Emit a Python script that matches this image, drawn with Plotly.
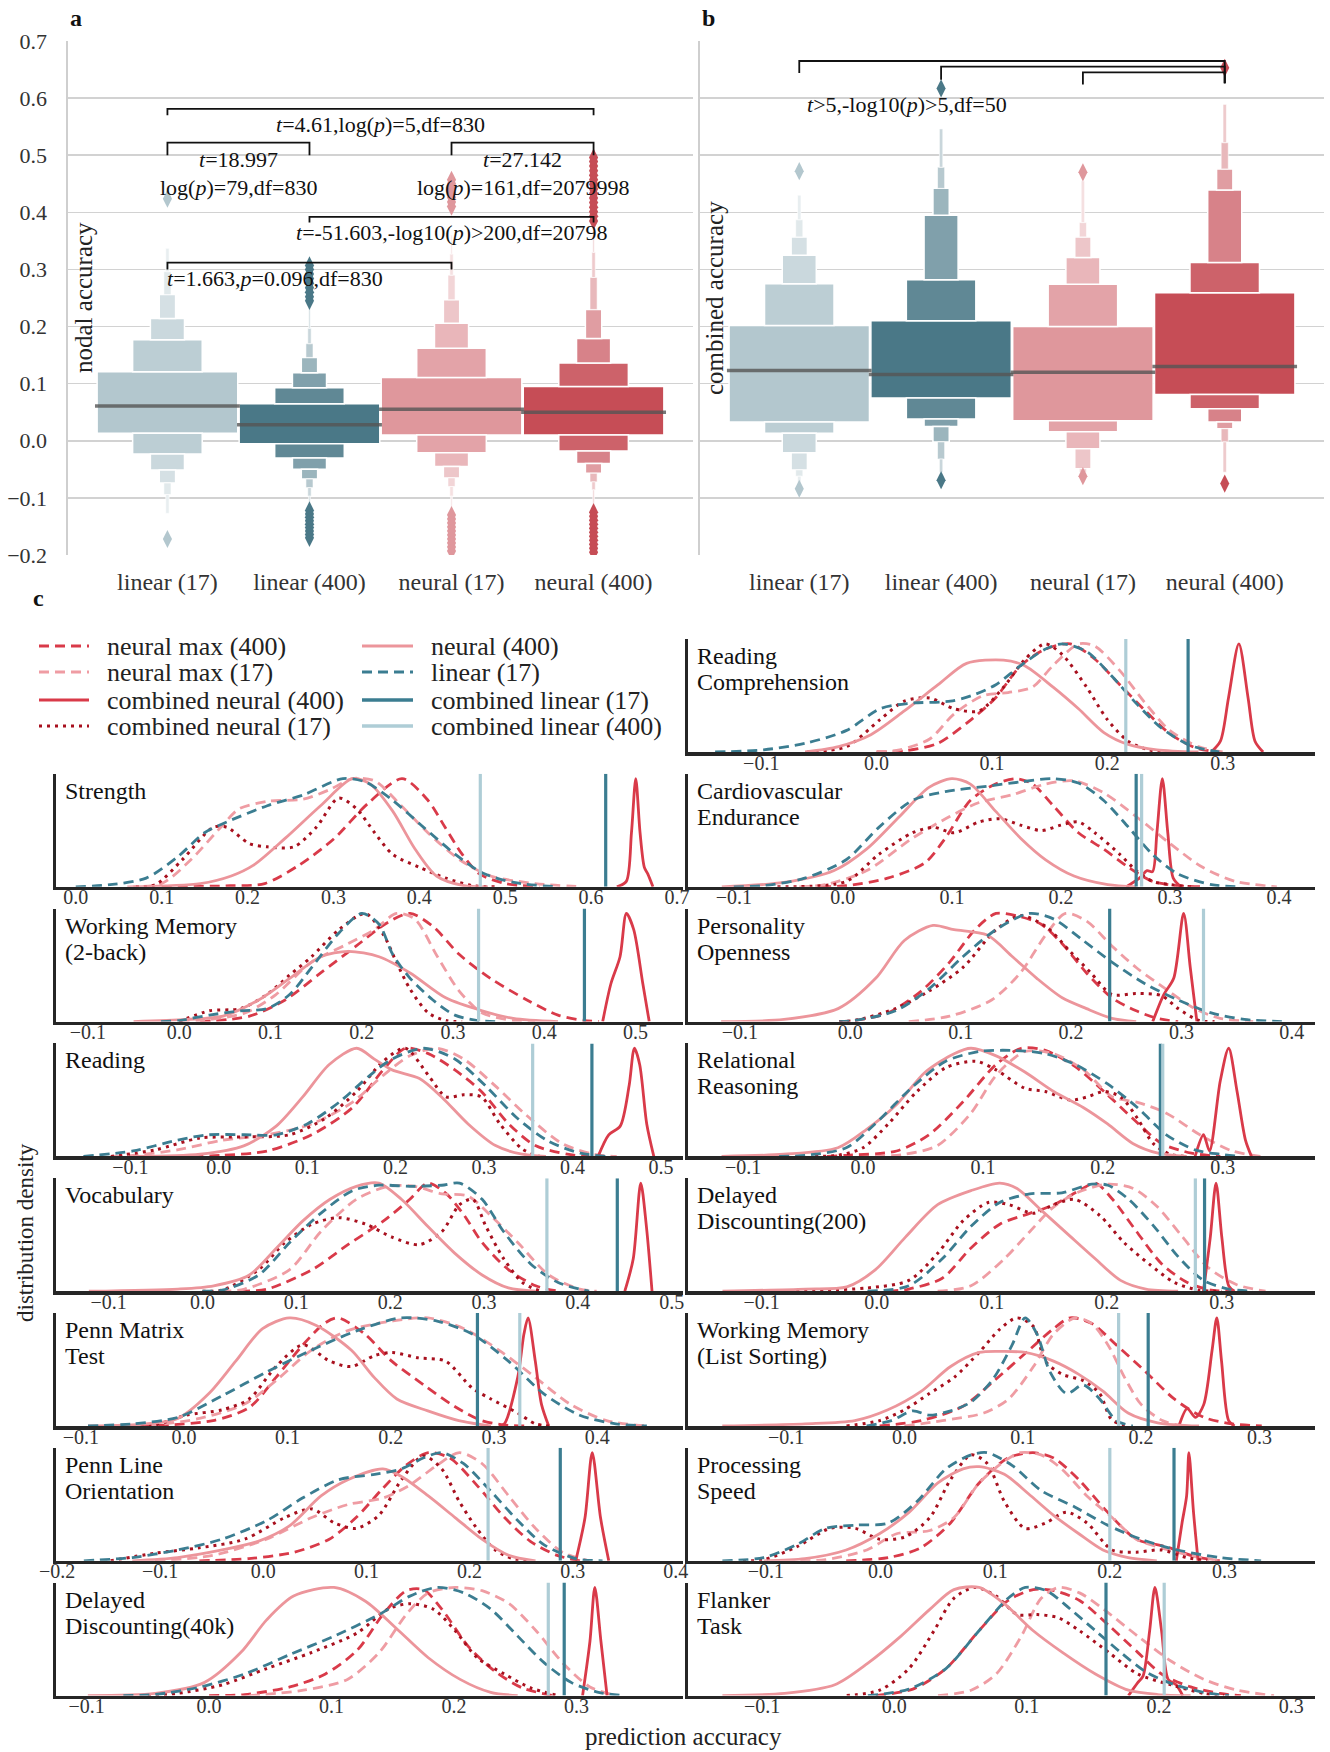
import plotly.graph_objects as go

FONT = "Liberation Serif"
W, H = 1330, 1752

# ---------------- panel a / b data (letter-value plots) ----------------
CATEGORIES = ["linear (17)", "linear (400)", "neural (17)", "neural (400)"]
CAT_COLORS = ["#b3c7ce", "#4a7887", "#df979c", "#c64d56"]

# lower / upper letter-value boundaries (outermost level last)
NODAL_LO = [[0.013, -0.023, -0.051, -0.074, -0.094, -0.127],
            [-0.005, -0.030, -0.050, -0.067, -0.082, -0.097, -0.115],
            [0.010, -0.021, -0.045, -0.065, -0.080, -0.097, -0.120],
            [0.010, -0.018, -0.040, -0.057, -0.072, -0.086, -0.110]]
NODAL_HI = [[0.121, 0.177, 0.214, 0.256, 0.296, 0.337],
            [0.065, 0.093, 0.119, 0.146, 0.170, 0.197, 0.232],
            [0.111, 0.162, 0.206, 0.247, 0.290, 0.327, 0.360],
            [0.095, 0.136, 0.179, 0.230, 0.286, 0.330, 0.370]]
NODAL_MED = [0.061, 0.028, 0.055, 0.050]
NODAL_OUT = [[0.424, -0.172],
             [0.245, 0.252, 0.26, 0.268, 0.276, 0.284, 0.292, 0.3, 0.307,
              -0.122, -0.128, -0.134, -0.14, -0.146, -0.152, -0.158, -0.164, -0.17],
             [0.41, 0.418, 0.426, 0.434, 0.442, 0.45, 0.457,
              -0.13, -0.137, -0.144, -0.151, -0.158, -0.165, -0.172, -0.179, -0.186, -0.193],
             [0.385, 0.393, 0.401, 0.409, 0.417, 0.425, 0.433, 0.441, 0.449, 0.457, 0.465,
              0.473, 0.481, 0.489, 0.496, -0.125, -0.132, -0.139, -0.146, -0.153, -0.16,
              -0.167, -0.174, -0.181, -0.188, -0.195]]

COMB_LO = [[0.033, 0.013, -0.021, -0.051, -0.062, -0.075],
           [0.075, 0.038, 0.025, -0.002, -0.032, -0.055],
           [0.035, 0.016, -0.014, -0.049, -0.055, -0.060],
           [0.081, 0.056, 0.033, 0.021, -0.002, -0.055]]
COMB_HI = [[0.202, 0.275, 0.325, 0.357, 0.387, 0.430],
           [0.210, 0.282, 0.395, 0.442, 0.479, 0.546],
           [0.200, 0.274, 0.321, 0.357, 0.382, 0.455],
           [0.259, 0.312, 0.439, 0.476, 0.522, 0.589]]
COMB_MED = [0.123, 0.116, 0.120, 0.130]
COMB_OUT = [[0.472, -0.084], [0.617, -0.069], [0.47, -0.062], [0.653, -0.075]]

LEVEL_WIDTHS = [0.99, 0.49, 0.24, 0.115, 0.05, 0.024, 0.012]
LEVEL_FADE = [0.0, 0.12, 0.3, 0.45, 0.6, 0.7, 0.78]

BRACKETS_A = [(0, 3, 0.581, 0.570, 0.570), (0, 1, 0.522, 0.500, 0.500),
              (2, 3, 0.522, 0.500, 0.500), (1, 3, 0.392, 0.382, 0.382),
              (0, 2, 0.312, 0.300, 0.300)]
TEXTS_A = [("<i>t</i>=4.61,log(<i>p</i>)=5,df=830", 1.5, 0.553),
           ("<i>t</i>=18.997", 0.5, 0.492),
           ("log(<i>p</i>)=79,df=830", 0.5, 0.443),
           ("<i>t</i>=27.142", 2.5, 0.492),
           ("log(<i>p</i>)=161,df=2079998", 2.5, 0.443),
           ("<i>t</i>=-51.603,-log10(<i>p</i>)&gt;200,df=20798", 2.0, 0.365),
           ("<i>t</i>=1.663,<i>p</i>=0.096,df=830", 0.76, 0.285)]
BRACKETS_B = [(0, 3, 0.665, 0.644, 0.626), (1, 3, 0.655, 0.632, 0.626),
              (2, 3, 0.645, 0.624, 0.626)]
TEXTS_B = [("<i>t</i>&gt;5,-log10(<i>p</i>)&gt;5,df=50", 0.76, 0.588)]

# ---------------- panel c data (density curves, (x, relative density)) ----------------
NEURAL_MAX_400 = {
    "Strength": [(0.10, 0), (0.18, 0.01), (0.22, 0.03), (0.26, 0.2), (0.30, 0.44), (0.34, 0.77), (0.38, 1.0), (0.41, 0.8), (0.43, 0.55), (0.45, 0.3), (0.47, 0.12), (0.50, 0.03), (0.54, 0)],
    "Reading Comprehension": [(0.0, 0), (0.024, 0.01), (0.053, 0.08), (0.082, 0.3), (0.103, 0.5), (0.125, 0.8), (0.146, 0.95), (0.168, 1.0), (0.189, 0.86), (0.211, 0.62), (0.233, 0.38), (0.254, 0.17), (0.276, 0.04), (0.297, 0)],
    "Cardiovascular Endurance": [(-0.02, 0), (0.003, 0.01), (0.041, 0.08), (0.075, 0.22), (0.094, 0.45), (0.117, 0.8), (0.14, 0.95), (0.159, 1.0), (0.174, 0.95), (0.193, 0.75), (0.216, 0.5), (0.239, 0.35), (0.262, 0.18), (0.284, 0.05), (0.307, 0.01), (0.33, 0)],
    "Working Memory (2-back)": [(0.023, 0), (0.077, 0.05), (0.116, 0.2), (0.155, 0.45), (0.194, 0.7), (0.229, 0.92), (0.253, 1.0), (0.278, 0.88), (0.307, 0.62), (0.341, 0.4), (0.381, 0.2), (0.415, 0.06), (0.444, 0.01), (0.46, 0)],
    "Personality Openness": [(-0.01, 0), (0.004, 0.01), (0.034, 0.08), (0.064, 0.28), (0.09, 0.55), (0.113, 0.85), (0.132, 1.0), (0.154, 0.97), (0.173, 0.9), (0.192, 0.72), (0.214, 0.45), (0.237, 0.22), (0.259, 0.1), (0.278, 0.03), (0.297, 0)],
    "Reading": [(-0.047, 0), (0.004, 0.01), (0.055, 0.05), (0.105, 0.2), (0.151, 0.45), (0.186, 0.8), (0.211, 1.0), (0.237, 0.95), (0.267, 0.8), (0.297, 0.6), (0.328, 0.3), (0.358, 0.1), (0.394, 0.02), (0.419, 0)],
    "Relational Reasoning": [(-0.03, 0), (-0.014, 0.01), (0.028, 0.05), (0.055, 0.2), (0.083, 0.5), (0.111, 0.85), (0.132, 1.0), (0.152, 0.98), (0.177, 0.83), (0.201, 0.6), (0.225, 0.35), (0.249, 0.12), (0.274, 0.03), (0.298, 0)],
    "Vocabulary": [(0.04, 0), (0.069, 0.02), (0.117, 0.2), (0.155, 0.43), (0.193, 0.65), (0.221, 0.85), (0.24, 1.0), (0.26, 0.9), (0.279, 0.7), (0.298, 0.45), (0.326, 0.2), (0.355, 0.05), (0.379, 0)],
    "Delayed Discounting(200)": [(0.01, 0), (0.028, 0.02), (0.057, 0.12), (0.082, 0.4), (0.107, 0.62), (0.133, 0.72), (0.154, 0.8), (0.176, 0.93), (0.19, 1.0), (0.205, 0.85), (0.226, 0.55), (0.248, 0.25), (0.27, 0.08), (0.291, 0.01), (0.31, 0)],
    "Penn Matrix Test": [(-0.04, 0), (-0.015, 0.01), (0.028, 0.05), (0.063, 0.17), (0.089, 0.45), (0.115, 0.75), (0.136, 0.95), (0.149, 1.0), (0.175, 0.85), (0.201, 0.6), (0.232, 0.38), (0.262, 0.18), (0.288, 0.05), (0.31, 0.01), (0.33, 0)],
    "Working Memory (List Sorting)": [(-0.021, 0), (0.014, 0.05), (0.049, 0.18), (0.077, 0.43), (0.105, 0.7), (0.126, 0.9), (0.14, 1.0), (0.158, 0.95), (0.179, 0.75), (0.204, 0.5), (0.228, 0.25), (0.253, 0.08), (0.277, 0.02), (0.302, 0)],
    "Penn Line Orientation": [(-0.062, 0), (-0.014, 0.02), (0.03, 0.08), (0.064, 0.2), (0.09, 0.4), (0.116, 0.67), (0.138, 0.88), (0.16, 1.0), (0.181, 0.95), (0.207, 0.7), (0.234, 0.4), (0.259, 0.18), (0.285, 0.05), (0.307, 0)],
    "Processing Speed": [(-0.03, 0), (0.007, 0.03), (0.035, 0.12), (0.061, 0.35), (0.086, 0.72), (0.111, 0.95), (0.133, 1.0), (0.151, 0.95), (0.173, 0.75), (0.198, 0.45), (0.223, 0.2), (0.249, 0.13), (0.274, 0.04), (0.296, 0)],
    "Delayed Discounting(40k)": [(0.0, 0), (0.029, 0.01), (0.066, 0.08), (0.095, 0.2), (0.121, 0.42), (0.142, 0.75), (0.161, 0.97), (0.175, 0.98), (0.19, 0.8), (0.212, 0.45), (0.234, 0.22), (0.256, 0.07), (0.281, 0)],
    "Flanker Task": [(-0.014, 0), (0.014, 0.06), (0.039, 0.25), (0.064, 0.6), (0.086, 0.88), (0.105, 0.98), (0.121, 0.97), (0.14, 0.88), (0.162, 0.65), (0.184, 0.4), (0.202, 0.2), (0.224, 0.08), (0.246, 0.02), (0.262, 0)],
}
NEURAL_MAX_17 = {
    "Strength": [(0.06, 0), (0.10, 0.03), (0.134, 0.25), (0.171, 0.57), (0.19, 0.72), (0.223, 0.79), (0.265, 0.81), (0.296, 0.9), (0.322, 1.0), (0.348, 0.98), (0.379, 0.75), (0.41, 0.5), (0.447, 0.25), (0.483, 0.1), (0.535, 0.03), (0.59, 0)],
    "Reading Comprehension": [(0.0, 0), (0.02, 0.02), (0.046, 0.12), (0.067, 0.35), (0.092, 0.52), (0.114, 0.55), (0.135, 0.6), (0.153, 0.8), (0.175, 1.0), (0.189, 0.98), (0.211, 0.75), (0.233, 0.45), (0.254, 0.2), (0.279, 0.05), (0.3, 0)],
    "Cardiovascular Endurance": [(-0.04, 0), (-0.016, 0.02), (0.022, 0.15), (0.064, 0.45), (0.098, 0.65), (0.125, 0.78), (0.155, 0.85), (0.186, 0.95), (0.212, 0.98), (0.239, 0.87), (0.269, 0.65), (0.3, 0.4), (0.33, 0.18), (0.36, 0.05), (0.398, 0)],
    "Working Memory (2-back)": [(0.0, 0), (0.023, 0.01), (0.072, 0.08), (0.106, 0.25), (0.145, 0.55), (0.185, 0.72), (0.214, 0.85), (0.238, 1.0), (0.258, 0.95), (0.283, 0.6), (0.307, 0.28), (0.332, 0.08), (0.366, 0.01), (0.39, 0)],
    "Personality Openness": [(0.053, 0), (0.09, 0.05), (0.128, 0.2), (0.154, 0.45), (0.177, 0.8), (0.195, 1.0), (0.214, 0.93), (0.237, 0.7), (0.259, 0.5), (0.286, 0.3), (0.312, 0.12), (0.335, 0.03), (0.365, 0)],
    "Reading": [(-0.12, 0), (-0.097, 0.01), (-0.047, 0.06), (0.004, 0.15), (0.055, 0.2), (0.105, 0.3), (0.151, 0.5), (0.186, 0.75), (0.216, 0.93), (0.247, 1.0), (0.277, 0.9), (0.313, 0.65), (0.348, 0.38), (0.388, 0.12), (0.424, 0.02), (0.45, 0)],
    "Relational Reasoning": [(0.01, 0), (0.035, 0.02), (0.062, 0.1), (0.09, 0.4), (0.111, 0.75), (0.135, 0.97), (0.159, 0.95), (0.184, 0.8), (0.208, 0.55), (0.229, 0.5), (0.253, 0.4), (0.281, 0.2), (0.308, 0.05), (0.332, 0)],
    "Vocabulary": [(0.02, 0), (0.045, 0.02), (0.093, 0.2), (0.126, 0.55), (0.164, 0.85), (0.198, 0.97), (0.226, 0.97), (0.255, 0.9), (0.283, 0.88), (0.307, 0.7), (0.336, 0.45), (0.369, 0.15), (0.402, 0.02), (0.42, 0)],
    "Delayed Discounting(200)": [(0.053, 0), (0.082, 0.05), (0.111, 0.3), (0.133, 0.55), (0.154, 0.78), (0.176, 0.92), (0.201, 0.99), (0.223, 0.95), (0.244, 0.78), (0.266, 0.5), (0.288, 0.22), (0.313, 0.06), (0.338, 0)],
    "Penn Matrix Test": [(-0.05, 0), (-0.028, 0.01), (0.015, 0.07), (0.058, 0.2), (0.089, 0.42), (0.123, 0.7), (0.158, 0.88), (0.201, 0.97), (0.236, 1.0), (0.271, 0.9), (0.305, 0.7), (0.34, 0.45), (0.374, 0.2), (0.409, 0.05), (0.448, 0)],
    "Working Memory (List Sorting)": [(0.0, 0), (0.032, 0.05), (0.067, 0.12), (0.088, 0.25), (0.109, 0.55), (0.126, 0.85), (0.144, 1.0), (0.158, 0.95), (0.172, 0.75), (0.186, 0.45), (0.2, 0.2), (0.218, 0.05), (0.235, 0)],
    "Penn Line Orientation": [(-0.105, 0), (-0.049, 0.05), (0.003, 0.2), (0.047, 0.4), (0.082, 0.52), (0.116, 0.58), (0.142, 0.7), (0.168, 0.88), (0.19, 1.0), (0.212, 0.9), (0.238, 0.6), (0.264, 0.3), (0.29, 0.08), (0.316, 0)],
    "Processing Speed": [(-0.07, 0), (-0.048, 0.01), (-0.012, 0.1), (0.014, 0.25), (0.043, 0.28), (0.064, 0.4), (0.086, 0.72), (0.108, 0.92), (0.122, 1.0), (0.14, 0.98), (0.158, 0.85), (0.18, 0.6), (0.202, 0.4), (0.223, 0.2), (0.245, 0.12), (0.27, 0.05), (0.296, 0)],
    "Delayed Discounting(40k)": [(0.033, 0), (0.077, 0.05), (0.113, 0.15), (0.139, 0.4), (0.161, 0.75), (0.179, 0.95), (0.201, 1.0), (0.223, 0.97), (0.245, 0.85), (0.267, 0.6), (0.289, 0.3), (0.311, 0.08), (0.332, 0)],
    "Flanker Task": [(0.033, 0), (0.058, 0.05), (0.077, 0.2), (0.096, 0.55), (0.111, 0.9), (0.124, 1.0), (0.14, 0.95), (0.158, 0.8), (0.184, 0.55), (0.209, 0.32), (0.234, 0.15), (0.259, 0.05), (0.287, 0)],
}
COMBINED_NEURAL_400 = {
    "Strength": [(0.63, 0), (0.641, 0.05), (0.647, 0.5), (0.652, 1.0), (0.657, 0.5), (0.662, 0.18), (0.666, 0.12), (0.672, 0)],
    "Reading Comprehension": [(0.29, 0), (0.298, 0.1), (0.305, 0.5), (0.314, 1.0), (0.322, 0.5), (0.328, 0.1), (0.335, 0)],
    "Cardiovascular Endurance": [(0.26, 0), (0.272, 0.08), (0.279, 0.15), (0.284, 0.14), (0.288, 0.5), (0.293, 1.0), (0.298, 0.5), (0.303, 0.08), (0.31, 0)],
    "Working Memory (2-back)": [(0.464, 0), (0.473, 0.35), (0.483, 0.6), (0.49, 1.0), (0.498, 0.85), (0.508, 0.35), (0.515, 0)],
    "Personality Openness": [(0.274, 0), (0.284, 0.25), (0.293, 0.4), (0.302, 1.0), (0.308, 0.5), (0.314, 0)],
    "Reading": [(0.429, 0), (0.441, 0.2), (0.454, 0.28), (0.464, 0.65), (0.47, 1.0), (0.476, 0.85), (0.484, 0.3), (0.492, 0)],
    "Relational Reasoning": [(0.277, 0), (0.284, 0.2), (0.289, 0.05), (0.298, 0.7), (0.305, 1.0), (0.312, 0.6), (0.319, 0.15), (0.324, 0)],
    "Vocabulary": [(0.45, 0), (0.459, 0.3), (0.467, 1.0), (0.473, 0.6), (0.479, 0)],
    "Delayed Discounting(200)": [(0.284, 0), (0.29, 0.5), (0.295, 1.0), (0.3, 0.5), (0.306, 0.05), (0.311, 0)],
    "Penn Matrix Test": [(0.305, 0), (0.31, 0.02), (0.323, 0.45), (0.329, 0.85), (0.333, 1.0), (0.34, 0.6), (0.346, 0.2), (0.353, 0)],
    "Working Memory (List Sorting)": [(0.232, 0), (0.239, 0.16), (0.246, 0.08), (0.253, 0.2), (0.26, 0.7), (0.264, 1.0), (0.268, 0.6), (0.274, 0.05), (0.279, 0)],
    "Penn Line Orientation": [(0.303, 0), (0.312, 0.4), (0.319, 1.0), (0.327, 0.4), (0.335, 0)],
    "Processing Speed": [(0.258, 0), (0.263, 0.35), (0.267, 0.6), (0.269, 1.0), (0.273, 0.45), (0.277, 0)],
    "Delayed Discounting(40k)": [(0.305, 0), (0.311, 0.5), (0.315, 1.0), (0.32, 0.5), (0.325, 0)],
    "Flanker Task": [(0.177, 0), (0.184, 0.12), (0.188, 0.18), (0.193, 0.6), (0.197, 1.0), (0.202, 0.6), (0.207, 0.15), (0.213, 0.1), (0.218, 0)],
}
COMBINED_NEURAL_17 = {
    "Strength": [(0.07, 0), (0.093, 0.02), (0.124, 0.25), (0.16, 0.55), (0.176, 0.55), (0.202, 0.4), (0.223, 0.37), (0.254, 0.37), (0.28, 0.55), (0.306, 0.82), (0.327, 0.72), (0.348, 0.5), (0.369, 0.3), (0.4, 0.18), (0.431, 0.08), (0.462, 0.01), (0.49, 0)],
    "Reading Comprehension": [(-0.06, 0), (-0.026, 0.05), (0.003, 0.3), (0.024, 0.47), (0.046, 0.5), (0.067, 0.4), (0.089, 0.38), (0.11, 0.6), (0.128, 0.85), (0.146, 1.0), (0.161, 0.9), (0.182, 0.6), (0.2, 0.3), (0.218, 0.1), (0.236, 0.02), (0.25, 0)],
    "Cardiovascular Endurance": [(-0.06, 0), (0.003, 0.05), (0.033, 0.3), (0.064, 0.5), (0.083, 0.55), (0.102, 0.5), (0.125, 0.6), (0.144, 0.63), (0.163, 0.57), (0.182, 0.52), (0.2, 0.57), (0.216, 0.6), (0.231, 0.5), (0.254, 0.3), (0.269, 0.15), (0.284, 0.05), (0.3, 0.02), (0.32, 0)],
    "Working Memory (2-back)": [(0.0, 0), (0.033, 0.1), (0.067, 0.12), (0.096, 0.25), (0.121, 0.43), (0.145, 0.6), (0.175, 0.85), (0.204, 1.0), (0.224, 0.8), (0.238, 0.55), (0.253, 0.3), (0.273, 0.08), (0.292, 0.01), (0.31, 0)],
    "Personality Openness": [(-0.01, 0), (0.004, 0.01), (0.041, 0.12), (0.071, 0.28), (0.102, 0.5), (0.132, 0.85), (0.154, 0.98), (0.177, 0.88), (0.199, 0.65), (0.218, 0.45), (0.237, 0.25), (0.259, 0.26), (0.282, 0.24), (0.297, 0.12), (0.316, 0.01), (0.33, 0)],
    "Reading": [(-0.122, 0), (-0.072, 0.06), (-0.021, 0.17), (0.029, 0.18), (0.08, 0.2), (0.12, 0.35), (0.156, 0.6), (0.186, 0.88), (0.211, 1.0), (0.237, 0.75), (0.257, 0.55), (0.277, 0.57), (0.297, 0.55), (0.318, 0.3), (0.343, 0.07), (0.363, 0)],
    "Relational Reasoning": [(-0.04, 0), (-0.021, 0.01), (0.0, 0.08), (0.021, 0.3), (0.045, 0.6), (0.069, 0.82), (0.094, 0.88), (0.111, 0.8), (0.135, 0.63), (0.152, 0.6), (0.173, 0.52), (0.187, 0.55), (0.201, 0.6), (0.215, 0.55), (0.229, 0.35), (0.242, 0.12), (0.256, 0.02), (0.27, 0)],
    "Vocabulary": [(0.0, 0), (0.021, 0.01), (0.06, 0.2), (0.088, 0.45), (0.117, 0.62), (0.145, 0.68), (0.174, 0.62), (0.202, 0.5), (0.231, 0.43), (0.255, 0.55), (0.274, 0.8), (0.288, 0.85), (0.302, 0.6), (0.321, 0.3), (0.341, 0.08), (0.36, 0)],
    "Delayed Discounting(200)": [(-0.07, 0), (-0.044, 0.01), (-0.008, 0.03), (0.028, 0.1), (0.053, 0.35), (0.075, 0.65), (0.097, 0.82), (0.115, 0.8), (0.136, 0.72), (0.154, 0.8), (0.172, 0.85), (0.194, 0.7), (0.215, 0.45), (0.237, 0.25), (0.259, 0.08), (0.28, 0.01), (0.3, 0)],
    "Penn Matrix Test": [(-0.05, 0), (-0.028, 0.01), (0.002, 0.1), (0.037, 0.15), (0.063, 0.25), (0.089, 0.55), (0.115, 0.75), (0.141, 0.6), (0.162, 0.55), (0.184, 0.65), (0.201, 0.68), (0.227, 0.63), (0.253, 0.6), (0.279, 0.35), (0.297, 0.25), (0.323, 0.12), (0.34, 0.02), (0.355, 0)],
    "Working Memory (List Sorting)": [(-0.049, 0), (-0.021, 0.05), (0.0, 0.15), (0.021, 0.3), (0.042, 0.45), (0.063, 0.68), (0.081, 0.9), (0.095, 1.0), (0.109, 0.92), (0.119, 0.6), (0.133, 0.48), (0.151, 0.42), (0.165, 0.3), (0.175, 0.06), (0.189, 0)],
    "Penn Line Orientation": [(-0.148, 0), (-0.105, 0.07), (-0.062, 0.12), (-0.018, 0.2), (0.021, 0.4), (0.047, 0.48), (0.069, 0.35), (0.09, 0.3), (0.112, 0.42), (0.134, 0.75), (0.155, 0.97), (0.173, 0.85), (0.19, 0.55), (0.207, 0.3), (0.225, 0.1), (0.242, 0.02), (0.26, 0)],
    "Processing Speed": [(-0.12, 0), (-0.102, 0.01), (-0.073, 0.13), (-0.044, 0.3), (-0.022, 0.3), (-0.001, 0.2), (0.021, 0.22), (0.043, 0.4), (0.061, 0.75), (0.079, 0.98), (0.093, 0.9), (0.108, 0.55), (0.126, 0.3), (0.144, 0.35), (0.162, 0.45), (0.18, 0.35), (0.202, 0.1), (0.223, 0.08), (0.245, 0.1), (0.267, 0.03), (0.285, 0)],
    "Delayed Discounting(40k)": [(-0.05, 0), (-0.026, 0.02), (0.011, 0.1), (0.047, 0.25), (0.084, 0.4), (0.121, 0.58), (0.146, 0.8), (0.164, 0.85), (0.183, 0.8), (0.201, 0.6), (0.219, 0.35), (0.241, 0.2), (0.263, 0.07), (0.285, 0)],
    "Flanker Task": [(-0.036, 0), (-0.011, 0.05), (0.011, 0.25), (0.03, 0.6), (0.045, 0.9), (0.061, 1.0), (0.077, 0.92), (0.093, 0.75), (0.108, 0.75), (0.124, 0.72), (0.14, 0.6), (0.162, 0.4), (0.184, 0.2), (0.209, 0.1), (0.234, 0.02), (0.249, 0)],
}
NEURAL_400 = {
    "Strength": [(0.067, 0), (0.145, 0.03), (0.181, 0.1), (0.207, 0.2), (0.244, 0.45), (0.285, 0.75), (0.322, 1.0), (0.343, 0.95), (0.369, 0.7), (0.395, 0.35), (0.42, 0.1), (0.452, 0.01), (0.48, 0)],
    "Reading Comprehension": [(-0.062, 0), (-0.033, 0.05), (-0.005, 0.16), (0.024, 0.38), (0.053, 0.62), (0.078, 0.82), (0.11, 0.85), (0.128, 0.8), (0.153, 0.6), (0.175, 0.4), (0.197, 0.18), (0.218, 0.07), (0.243, 0.02), (0.279, 0)],
    "Cardiovascular Endurance": [(-0.111, 0), (-0.054, 0.04), (-0.008, 0.15), (0.022, 0.35), (0.052, 0.65), (0.079, 0.92), (0.1, 1.0), (0.117, 0.95), (0.14, 0.7), (0.163, 0.45), (0.186, 0.25), (0.212, 0.1), (0.243, 0.02), (0.269, 0)],
    "Working Memory (2-back)": [(-0.05, 0), (0.008, 0.02), (0.048, 0.05), (0.087, 0.2), (0.121, 0.4), (0.155, 0.6), (0.185, 0.65), (0.219, 0.6), (0.253, 0.45), (0.292, 0.22), (0.332, 0.1), (0.366, 0.03), (0.415, 0)],
    "Personality Openness": [(-0.117, 0), (-0.06, 0.02), (-0.011, 0.12), (0.023, 0.4), (0.049, 0.75), (0.075, 0.89), (0.094, 0.85), (0.124, 0.8), (0.147, 0.6), (0.169, 0.4), (0.192, 0.22), (0.214, 0.12), (0.237, 0.03), (0.259, 0)],
    "Reading": [(-0.097, 0), (-0.021, 0.02), (0.029, 0.1), (0.065, 0.28), (0.095, 0.55), (0.125, 0.85), (0.156, 1.0), (0.176, 0.9), (0.196, 0.8), (0.227, 0.72), (0.252, 0.55), (0.282, 0.3), (0.313, 0.1), (0.343, 0.02), (0.37, 0)],
    "Relational Reasoning": [(-0.118, 0), (-0.066, 0.02), (-0.021, 0.08), (0.003, 0.25), (0.028, 0.48), (0.052, 0.78), (0.076, 0.95), (0.09, 1.0), (0.111, 0.93), (0.135, 0.78), (0.159, 0.6), (0.184, 0.45), (0.204, 0.3), (0.225, 0.12), (0.246, 0.03), (0.27, 0)],
    "Vocabulary": [(-0.121, 0), (-0.026, 0.02), (0.012, 0.05), (0.05, 0.15), (0.079, 0.4), (0.107, 0.65), (0.136, 0.85), (0.164, 0.97), (0.188, 1.0), (0.212, 0.85), (0.24, 0.6), (0.269, 0.35), (0.298, 0.15), (0.326, 0.03), (0.355, 0)],
    "Delayed Discounting(200)": [(-0.134, 0), (-0.062, 0.02), (-0.026, 0.04), (-0.001, 0.2), (0.025, 0.5), (0.053, 0.8), (0.082, 0.93), (0.107, 1.0), (0.122, 0.95), (0.143, 0.75), (0.169, 0.5), (0.19, 0.3), (0.212, 0.1), (0.234, 0.02), (0.262, 0)],
    "Penn Matrix Test": [(-0.093, 0), (-0.037, 0.02), (-0.006, 0.07), (0.024, 0.3), (0.05, 0.6), (0.076, 0.9), (0.102, 1.0), (0.128, 0.93), (0.162, 0.7), (0.184, 0.45), (0.206, 0.25), (0.236, 0.14), (0.266, 0.05), (0.297, 0)],
    "Working Memory (List Sorting)": [(-0.154, 0), (-0.084, 0.02), (-0.042, 0.05), (-0.014, 0.15), (0.014, 0.32), (0.039, 0.55), (0.063, 0.68), (0.084, 0.69), (0.102, 0.68), (0.126, 0.6), (0.147, 0.48), (0.168, 0.32), (0.189, 0.12), (0.214, 0.03), (0.249, 0)],
    "Penn Line Orientation": [(-0.127, 0), (-0.083, 0.03), (-0.04, 0.1), (-0.005, 0.18), (0.025, 0.32), (0.056, 0.6), (0.082, 0.75), (0.116, 0.85), (0.134, 0.78), (0.16, 0.6), (0.186, 0.4), (0.212, 0.2), (0.238, 0.05), (0.264, 0)],
    "Processing Speed": [(-0.102, 0), (-0.066, 0.02), (-0.03, 0.1), (-0.001, 0.25), (0.025, 0.45), (0.05, 0.72), (0.072, 0.85), (0.086, 0.87), (0.108, 0.8), (0.129, 0.62), (0.151, 0.42), (0.173, 0.25), (0.194, 0.1), (0.216, 0.03), (0.241, 0)],
    "Delayed Discounting(40k)": [(-0.099, 0), (-0.044, 0.02), (-0.004, 0.12), (0.026, 0.4), (0.047, 0.7), (0.069, 0.92), (0.102, 1.0), (0.128, 0.87), (0.153, 0.62), (0.179, 0.35), (0.205, 0.15), (0.23, 0.03), (0.252, 0)],
    "Flanker Task": [(-0.13, 0), (-0.083, 0.02), (-0.045, 0.1), (-0.02, 0.3), (0.005, 0.55), (0.027, 0.8), (0.045, 0.98), (0.064, 1.0), (0.083, 0.85), (0.105, 0.6), (0.127, 0.4), (0.152, 0.2), (0.177, 0.05), (0.199, 0.01), (0.224, 0)],
}
LINEAR_17 = {
    "Strength": [(0.0, 0), (0.04, 0.02), (0.082, 0.08), (0.119, 0.28), (0.15, 0.5), (0.176, 0.6), (0.223, 0.75), (0.265, 0.85), (0.311, 1.0), (0.337, 0.97), (0.369, 0.8), (0.405, 0.55), (0.442, 0.3), (0.473, 0.13), (0.51, 0.04), (0.56, 0)],
    "Reading Comprehension": [(-0.14, 0), (-0.098, 0.02), (-0.062, 0.08), (-0.026, 0.2), (0.003, 0.4), (0.028, 0.45), (0.064, 0.47), (0.082, 0.52), (0.103, 0.62), (0.125, 0.8), (0.146, 0.95), (0.161, 1.0), (0.182, 0.93), (0.204, 0.7), (0.225, 0.45), (0.247, 0.22), (0.272, 0.06), (0.297, 0)],
    "Cardiovascular Endurance": [(-0.1, 0), (-0.073, 0.01), (-0.035, 0.08), (0.003, 0.25), (0.033, 0.55), (0.064, 0.8), (0.094, 0.88), (0.132, 0.93), (0.163, 0.97), (0.193, 1.0), (0.216, 0.96), (0.239, 0.8), (0.262, 0.55), (0.284, 0.3), (0.307, 0.12), (0.338, 0.02), (0.364, 0)],
    "Working Memory (2-back)": [(-0.02, 0), (0.0, 0.01), (0.033, 0.06), (0.067, 0.1), (0.096, 0.12), (0.121, 0.25), (0.145, 0.5), (0.175, 0.82), (0.2, 1.0), (0.219, 0.9), (0.234, 0.62), (0.253, 0.4), (0.278, 0.2), (0.302, 0.06), (0.327, 0.01), (0.35, 0)],
    "Personality Openness": [(-0.01, 0), (0.004, 0.01), (0.041, 0.1), (0.071, 0.3), (0.102, 0.6), (0.132, 0.85), (0.162, 1.0), (0.184, 0.95), (0.211, 0.75), (0.237, 0.55), (0.267, 0.35), (0.297, 0.2), (0.327, 0.08), (0.357, 0.02), (0.391, 0)],
    "Reading": [(-0.153, 0), (-0.097, 0.05), (-0.047, 0.15), (-0.011, 0.2), (0.029, 0.2), (0.065, 0.2), (0.1, 0.3), (0.136, 0.5), (0.171, 0.75), (0.196, 0.9), (0.232, 1.0), (0.267, 0.9), (0.302, 0.65), (0.338, 0.35), (0.373, 0.14), (0.409, 0.03), (0.439, 0)],
    "Relational Reasoning": [(-0.07, 0), (-0.048, 0.01), (-0.014, 0.08), (0.01, 0.3), (0.042, 0.65), (0.069, 0.88), (0.097, 0.97), (0.125, 0.98), (0.152, 0.95), (0.177, 0.85), (0.204, 0.67), (0.229, 0.45), (0.253, 0.2), (0.277, 0.06), (0.298, 0.02), (0.315, 0)],
    "Vocabulary": [(0.0, 0), (0.021, 0.01), (0.06, 0.15), (0.093, 0.45), (0.126, 0.72), (0.16, 0.93), (0.188, 0.98), (0.221, 0.97), (0.255, 0.98), (0.274, 1.0), (0.298, 0.85), (0.321, 0.55), (0.35, 0.25), (0.379, 0.08), (0.412, 0)],
    "Delayed Discounting(200)": [(-0.008, 0), (0.028, 0.05), (0.057, 0.3), (0.082, 0.6), (0.107, 0.82), (0.133, 0.9), (0.161, 0.91), (0.187, 0.99), (0.201, 0.98), (0.219, 0.85), (0.241, 0.6), (0.262, 0.32), (0.284, 0.1), (0.306, 0.02), (0.327, 0)],
    "Penn Matrix Test": [(-0.093, 0), (-0.05, 0.02), (-0.006, 0.08), (0.037, 0.28), (0.08, 0.5), (0.123, 0.7), (0.167, 0.88), (0.21, 1.0), (0.245, 0.97), (0.279, 0.85), (0.314, 0.6), (0.348, 0.3), (0.383, 0.1), (0.418, 0.02), (0.448, 0)],
    "Working Memory (List Sorting)": [(-0.032, 0), (-0.011, 0.05), (0.007, 0.14), (0.021, 0.1), (0.039, 0.14), (0.056, 0.22), (0.074, 0.42), (0.091, 0.75), (0.102, 1.0), (0.112, 0.85), (0.123, 0.5), (0.137, 0.3), (0.151, 0.38), (0.165, 0.25), (0.179, 0.05), (0.193, 0)],
    "Penn Line Orientation": [(-0.174, 0), (-0.127, 0.03), (-0.083, 0.1), (-0.04, 0.2), (0.003, 0.37), (0.038, 0.58), (0.073, 0.75), (0.108, 0.8), (0.134, 0.85), (0.155, 0.95), (0.173, 1.0), (0.194, 0.9), (0.22, 0.65), (0.246, 0.38), (0.272, 0.15), (0.303, 0.02), (0.329, 0)],
    "Processing Speed": [(-0.138, 0), (-0.102, 0.03), (-0.073, 0.15), (-0.048, 0.3), (-0.022, 0.33), (0.007, 0.35), (0.032, 0.55), (0.057, 0.85), (0.079, 0.98), (0.093, 1.0), (0.115, 0.88), (0.14, 0.65), (0.169, 0.5), (0.198, 0.33), (0.227, 0.2), (0.259, 0.1), (0.296, 0.03), (0.332, 0)],
    "Delayed Discounting(40k)": [(-0.07, 0), (-0.044, 0.01), (-0.007, 0.08), (0.029, 0.2), (0.066, 0.38), (0.102, 0.55), (0.139, 0.75), (0.164, 0.92), (0.186, 1.0), (0.208, 0.95), (0.23, 0.8), (0.252, 0.55), (0.274, 0.3), (0.296, 0.12), (0.318, 0.03), (0.34, 0)],
    "Flanker Task": [(-0.02, 0), (0.011, 0.06), (0.039, 0.25), (0.064, 0.6), (0.086, 0.9), (0.099, 1.0), (0.115, 0.97), (0.133, 0.8), (0.152, 0.6), (0.171, 0.4), (0.19, 0.22), (0.212, 0.1), (0.234, 0.03), (0.253, 0)],
}
COMBINED_LINEAR_17 = {"Strength": 0.617, "Reading Comprehension": 0.270, "Cardiovascular Endurance": 0.269,
                      "Working Memory (2-back)": 0.444, "Personality Openness": 0.235, "Reading": 0.422,
                      "Relational Reasoning": 0.248, "Vocabulary": 0.442, "Delayed Discounting(200)": 0.285,
                      "Penn Matrix Test": 0.284, "Working Memory (List Sorting)": 0.206,
                      "Penn Line Orientation": 0.288, "Processing Speed": 0.256,
                      "Delayed Discounting(40k)": 0.290, "Flanker Task": 0.160}
COMBINED_LINEAR_400 = {"Strength": 0.471, "Reading Comprehension": 0.216, "Cardiovascular Endurance": 0.274,
                       "Working Memory (2-back)": 0.328, "Personality Openness": 0.320, "Reading": 0.355,
                       "Relational Reasoning": 0.250, "Vocabulary": 0.367, "Delayed Discounting(200)": 0.277,
                       "Penn Matrix Test": 0.325, "Working Memory (List Sorting)": 0.181,
                       "Penn Line Orientation": 0.218, "Processing Speed": 0.200,
                       "Delayed Discounting(40k)": 0.277, "Flanker Task": 0.204}

# task, title lines, column, row, x range
PANELS = [
    ("Reading Comprehension", ["Reading", "Comprehension"], 1, 0, (-0.1635, 0.380)),
    ("Strength", ["Strength"], 0, 1, (-0.023, 0.707)),
    ("Cardiovascular Endurance", ["Cardiovascular", "Endurance"], 1, 1, (-0.142, 0.433)),
    ("Working Memory (2-back)", ["Working Memory", "(2-back)"], 0, 2, (-0.135, 0.552)),
    ("Personality Openness", ["Personality", "Openness"], 1, 2, (-0.147, 0.421)),
    ("Reading", ["Reading"], 0, 3, (-0.184, 0.525)),
    ("Relational Reasoning", ["Relational", "Reasoning"], 1, 3, (-0.146, 0.377)),
    ("Vocabulary", ["Vocabulary"], 0, 4, (-0.156, 0.512)),
    ("Delayed Discounting(200)", ["Delayed", "Discounting(200)"], 1, 4, (-0.164, 0.381)),
    ("Penn Matrix Test", ["Penn Matrix", "Test"], 0, 5, (-0.124, 0.483)),
    ("Working Memory (List Sorting)", ["Working Memory", "(List Sorting)"], 1, 5, (-0.183, 0.347)),
    ("Penn Line Orientation", ["Penn Line", "Orientation"], 0, 6, (-0.201, 0.407)),
    ("Processing Speed", ["Processing", "Speed"], 1, 6, (-0.168, 0.379)),
    ("Delayed Discounting(40k)", ["Delayed", "Discounting(40k)"], 0, 7, (-0.125, 0.387)),
    ("Flanker Task", ["Flanker", "Task"], 1, 7, (-0.156, 0.318)),
]

C_RED, C_PINK, C_LPINK = "#d93a49", "#ec959b", "#ef9ca3"
C_DRED, C_TEAL, C_LBLUE = "#a8101e", "#3b7d91", "#aecdd6"
# (name, data, color, dash, width, legend column, legend row)
SERIES = [
    ("neural max (400)", NEURAL_MAX_400, C_RED, "10px,6px", 2.8, 0, 0),
    ("neural max (17)", NEURAL_MAX_17, C_LPINK, "10px,6px", 2.8, 0, 1),
    ("combined neural (400)", COMBINED_NEURAL_400, C_RED, "solid", 2.8, 0, 2),
    ("combined neural (17)", COMBINED_NEURAL_17, C_DRED, "3px,5px", 3.0, 0, 3),
    ("neural (400)", NEURAL_400, C_PINK, "solid", 2.8, 1, 0),
    ("linear (17)", LINEAR_17, C_TEAL, "10px,6px", 2.8, 1, 1),
]
VLINES = [("combined linear (17)", COMBINED_LINEAR_17, C_TEAL, 1, 2),
          ("combined linear (400)", COMBINED_LINEAR_400, C_LBLUE, 1, 3)]


def fade(hexcol, f):
    h = hexcol.lstrip("#")
    r, g, b = (int(h[i:i + 2], 16) for i in (0, 2, 4))
    r, g, b = (round(c + (255 - c) * f) for c in (r, g, b))
    return f"rgb({r},{g},{b})"


fig = go.Figure()
annotations, shapes = [], []
layout = {}

# ---------------- panels a and b ----------------
Y0A, Y1A = 41, 555
for (LO, HI, MED, OUT, BR, TX, ax) in [
        (NODAL_LO, NODAL_HI, NODAL_MED, NODAL_OUT, BRACKETS_A, TEXTS_A, ""),
        (COMB_LO, COMB_HI, COMB_MED, COMB_OUT, BRACKETS_B, TEXTS_B, "2")]:
    xa, ya = "x" + ax, "y" + ax
    for ci in range(4):
        base = CAT_COLORS[ci]
        lo, hi = LO[ci], HI[ci]
        for k in range(len(lo)):
            col = fade(base, LEVEL_FADE[k])
            w = LEVEL_WIDTHS[k]
            lw = 1.5 if k < 4 else 0.6
            if k == 0:
                bases, hts = [lo[0]], [hi[0] - lo[0]]
            else:
                bases, hts = [lo[k], hi[k - 1]], [lo[k - 1] - lo[k], hi[k] - hi[k - 1]]
            fig.add_trace(go.Bar(x=[ci] * len(bases), y=hts, base=bases, width=w,
                                 marker=dict(color=col, line=dict(color="white", width=lw)),
                                 xaxis=xa, yaxis=ya, showlegend=False, hoverinfo="skip"))
        fig.add_trace(go.Scatter(x=[ci - 0.51, ci + 0.51], y=[MED[ci], MED[ci]], mode="lines",
                                 line=dict(color="rgba(85,85,85,0.8)", width=3.5),
                                 xaxis=xa, yaxis=ya, showlegend=False, hoverinfo="skip"))
        fig.add_trace(go.Scatter(x=[ci] * len(OUT[ci]), y=OUT[ci], mode="markers",
                                 marker=dict(symbol="diamond-tall", size=13, color=base, line=dict(width=0)),
                                 xaxis=xa, yaxis=ya, showlegend=False, hoverinfo="skip"))
    for (x0, x1, yt, yl, yr) in BR:
        fig.add_trace(go.Scatter(x=[x0, x0, x1, x1], y=[yl, yt, yt, yr], mode="lines",
                                 line=dict(color="#111111", width=1.8),
                                 xaxis=xa, yaxis=ya, showlegend=False, hoverinfo="skip"))
    for (t, tx, ty) in TX:
        annotations.append(dict(text=t, x=tx, y=ty, xref=xa, yref=ya, showarrow=False,
                                font=dict(family=FONT, size=22, color="#111")))

xa_dom = [68 / W, 693 / W]
xb_dom = [700 / W, 1324 / W]
yab_dom = [1 - Y1A / H, 1 - Y0A / H]
common_x = dict(range=[-0.7, 3.7], tickmode="array", tickvals=[0, 1, 2, 3], ticktext=CATEGORIES,
                showgrid=False, zeroline=False, showline=False, ticks="", automargin=False,
                tickfont=dict(family=FONT, size=24, color="#333"), ticklabelstandoff=10)
common_y = dict(range=[-0.2, 0.7], tickmode="array", tickvals=[-0.2, -0.1, 0, 0.1, 0.2, 0.3, 0.4, 0.5, 0.6, 0.7],
                tickformat=".1f", showgrid=True, gridcolor="#d2d2d2", gridwidth=1.6, zeroline=False,
                showline=True, linecolor="#cfcfcf", linewidth=2.5, ticks="", automargin=False)
layout["xaxis"] = dict(common_x, domain=xa_dom, anchor="y")
layout["yaxis"] = dict(common_y, domain=yab_dom, anchor="x",
                       tickfont=dict(family=FONT, size=22, color="#333"), ticklabelstandoff=14)
layout["xaxis2"] = dict(common_x, domain=xb_dom, anchor="y2")
layout["yaxis2"] = dict(common_y, domain=yab_dom, anchor="x2", showticklabels=False)

# ---------------- panel c ----------------
YMAX = 1.045
for pi, (task, title, col, row, xr) in enumerate(PANELS):
    n = pi + 3
    xa, ya = f"x{n}", f"y{n}"
    base_px = 752 + 134.8 * row
    top_px = base_px - 113
    xd = [56 / W, 683 / W] if col == 0 else [688 / W, 1315 / W]
    layout[f"xaxis{n}"] = dict(domain=xd, anchor=ya, range=list(xr), dtick=0.1, tick0=0, tickformat=".1f",
                               showgrid=False, zeroline=False, showline=True, linecolor="#262626",
                               linewidth=3.5, ticks="", tickfont=dict(family=FONT, size=20, color="#333"),
                               ticklabelstandoff=-10, automargin=False)
    layout[f"yaxis{n}"] = dict(domain=[1 - base_px / H, 1 - top_px / H], anchor=xa, range=[0, YMAX],
                               showgrid=False, zeroline=False, showline=True, linecolor="#262626",
                               linewidth=3.5, ticks="", showticklabels=False, automargin=False)
    for (name, data, color, dash, lw, _, _) in SERIES:
        pts = data[task]
        fig.add_trace(go.Scatter(x=[p[0] for p in pts], y=[p[1] for p in pts], mode="lines",
                                 line=dict(color=color, dash=dash, width=lw, shape="spline", smoothing=0.8),
                                 name=name, showlegend=False, xaxis=xa, yaxis=ya, hoverinfo="skip"))
    for (name, data, color, _, _) in VLINES:
        v = data[task]
        fig.add_trace(go.Scatter(x=[v, v], y=[0, YMAX], mode="lines",
                                 line=dict(color=color, width=3.2),
                                 name=name, showlegend=False, xaxis=xa, yaxis=ya, hoverinfo="skip"))
    for li, line_txt in enumerate(title):
        annotations.append(dict(
            text=line_txt, x=xd[0] + 7 / W, y=1 - (top_px + 17 + 26 * li) / H, xref="paper", yref="paper",
            xanchor="left", yanchor="middle", align="left", showarrow=False,
            font=dict(family=FONT, size=24, color="#111")))

# legend (two columns) for panel c
LEG_X = [(39, 89, 105), (362, 413, 429)]
LEG_Y = [646, 672, 700, 726]
for (name, _, color, dash, lw, c, r) in SERIES + [(v[0], None, v[2], "solid", 3.4, v[3], v[4]) for v in VLINES]:
    x0, x1, xt = LEG_X[c]
    y = 1 - LEG_Y[r] / H
    shapes.append(dict(type="line", xref="paper", yref="paper", x0=x0 / W, x1=x1 / W, y0=y, y1=y,
                       line=dict(color=color, width=max(lw, 3.2), dash=dash)))
    annotations.append(dict(text=name, x=xt / W, y=y, xref="paper", yref="paper", xanchor="left",
                            yanchor="middle", showarrow=False, font=dict(family=FONT, size=26, color="#222")))

# panel letters and axis titles
for (t, x, y) in [("a", 68, 18), ("b", 700, 18), ("c", 31, 598)]:
    annotations.append(dict(text=f"<b>{t}</b>", x=x / W, y=1 - y / H, xref="paper", yref="paper",
                            xanchor="left", yanchor="middle", showarrow=False,
                            font=dict(family=FONT, size=24, color="#111")))
for (t, x, y, s) in [("nodal accuracy", 84, 298, 25), ("combined accuracy", 715, 298, 25),
                     ("distribution density", 25, 1233, 23)]:
    annotations.append(dict(text=t, x=x / W, y=1 - y / H, xref="paper", yref="paper",
                            xanchor="center", yanchor="middle", textangle=-90, showarrow=False,
                            font=dict(family=FONT, size=s, color="#222")))
annotations.append(dict(text="prediction accuracy", x=684 / W, y=1 - 1736 / H, xref="paper",
                        yref="paper", xanchor="center", yanchor="middle", showarrow=False,
                        font=dict(family=FONT, size=25, color="#222")))

layout["annotations"] = annotations
layout["shapes"] = shapes
fig.update_layout(**layout)
fig.update_layout(width=W, height=H, margin=dict(l=0, r=0, t=0, b=0, autoexpand=False), barmode="overlay",
                  plot_bgcolor="white", paper_bgcolor="white", font=dict(family=FONT, color="#222"),
                  hovermode=False, showlegend=False)
fig.write_html("out.html", config={"displayModeBar": False, "staticPlot": True},
               post_script="document.body.style.margin='0';")
